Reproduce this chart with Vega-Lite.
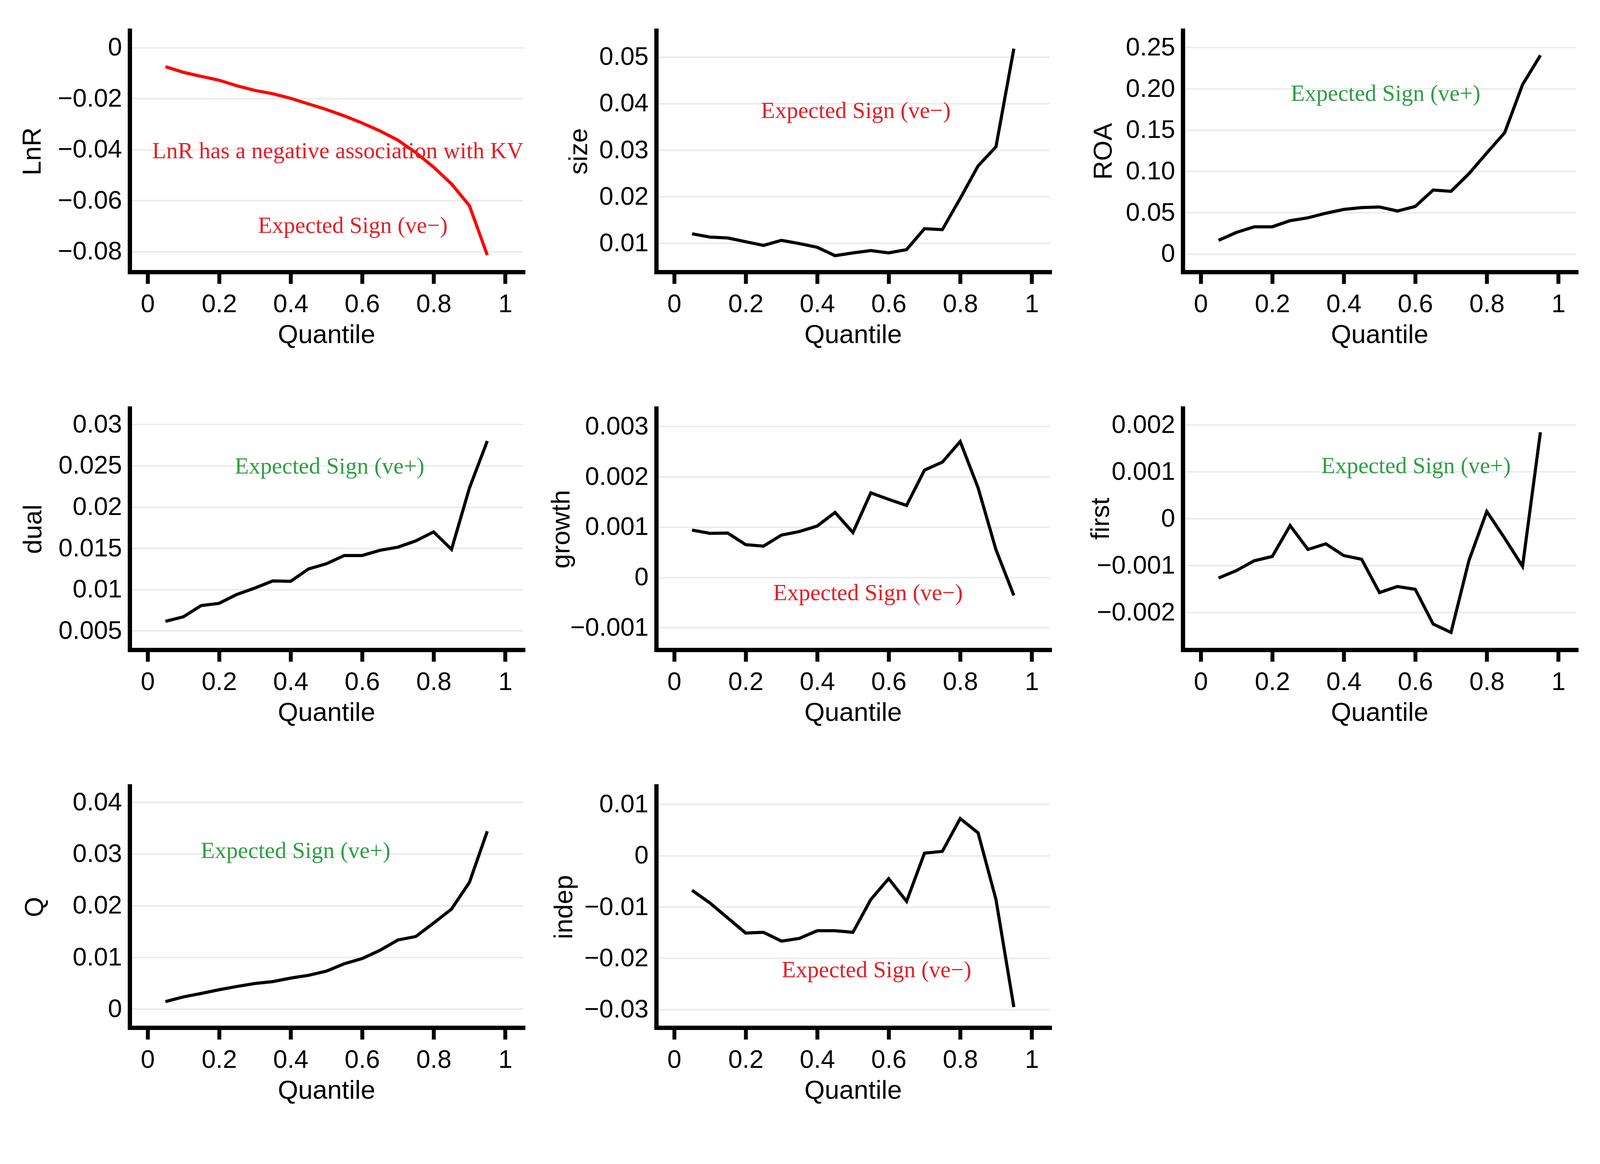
{
  "$schema": "https://vega.github.io/schema/vega-lite/v6.json",
  "background": "white",
  "padding": {"left": 49, "top": 78, "right": 30, "bottom": 30},
  "config": {
    "view": {"stroke": null},
    "font": "Liberation Sans",
    "axis": {
      "labelFont": "Liberation Sans",
      "titleFont": "Liberation Sans",
      "labelFontSize": 65,
      "titleFontSize": 67,
      "titleFontWeight": "normal",
      "labelColor": "black",
      "titleColor": "black",
      "domainColor": "black",
      "domainWidth": 11,
      "domainCap": "square",
      "labelLimit": 1000
    },
    "axisX": {
      "grid": false,
      "ticks": true,
      "tickSize": 30,
      "tickWidth": 10,
      "tickColor": "black",
      "labelPadding": 21,
      "titlePadding": 13,
      "labelFlush": false,
      "labelOverlap": false
    },
    "axisY": {
      "grid": true,
      "gridColor": "#ebebeb",
      "gridWidth": 4,
      "ticks": false,
      "tickSize": 0,
      "labelPadding": 20,
      "titlePadding": 17,
      "labelFlush": false,
      "labelOverlap": false
    }
  },
  "datasets": {
    "LnR": [
      {"q": 0.05, "y": -0.0075}, {"q": 0.10, "y": -0.0097}, {"q": 0.15, "y": -0.0113}, {"q": 0.20, "y": -0.0128},
      {"q": 0.25, "y": -0.0150}, {"q": 0.30, "y": -0.0168}, {"q": 0.35, "y": -0.0181}, {"q": 0.40, "y": -0.0199},
      {"q": 0.45, "y": -0.0221}, {"q": 0.50, "y": -0.0243}, {"q": 0.55, "y": -0.0268}, {"q": 0.60, "y": -0.0296},
      {"q": 0.65, "y": -0.0327}, {"q": 0.70, "y": -0.0363}, {"q": 0.75, "y": -0.0412}, {"q": 0.80, "y": -0.0469},
      {"q": 0.85, "y": -0.0535}, {"q": 0.90, "y": -0.0620}, {"q": 0.95, "y": -0.0814}
    ],
    "size": [
      {"q": 0.05, "y": 0.0120}, {"q": 0.10, "y": 0.0113}, {"q": 0.15, "y": 0.0111}, {"q": 0.20, "y": 0.0103},
      {"q": 0.25, "y": 0.0095}, {"q": 0.30, "y": 0.0106}, {"q": 0.35, "y": 0.0099}, {"q": 0.40, "y": 0.0091},
      {"q": 0.45, "y": 0.0073}, {"q": 0.50, "y": 0.0079}, {"q": 0.55, "y": 0.0084}, {"q": 0.60, "y": 0.0079},
      {"q": 0.65, "y": 0.0086}, {"q": 0.70, "y": 0.0131}, {"q": 0.75, "y": 0.0129}, {"q": 0.80, "y": 0.0196},
      {"q": 0.85, "y": 0.0266}, {"q": 0.90, "y": 0.0307}, {"q": 0.95, "y": 0.0518}
    ],
    "ROA": [
      {"q": 0.05, "y": 0.0164}, {"q": 0.10, "y": 0.0260}, {"q": 0.15, "y": 0.0328}, {"q": 0.20, "y": 0.0328},
      {"q": 0.25, "y": 0.0402}, {"q": 0.30, "y": 0.0437}, {"q": 0.35, "y": 0.0492}, {"q": 0.40, "y": 0.0538},
      {"q": 0.45, "y": 0.0560}, {"q": 0.50, "y": 0.0568}, {"q": 0.55, "y": 0.0519}, {"q": 0.60, "y": 0.0574},
      {"q": 0.65, "y": 0.0773}, {"q": 0.70, "y": 0.0757}, {"q": 0.75, "y": 0.0970}, {"q": 0.80, "y": 0.1221},
      {"q": 0.85, "y": 0.1467}, {"q": 0.90, "y": 0.2049}, {"q": 0.95, "y": 0.2404}
    ],
    "dual": [
      {"q": 0.05, "y": 0.00614}, {"q": 0.10, "y": 0.00669}, {"q": 0.15, "y": 0.00805}, {"q": 0.20, "y": 0.00832},
      {"q": 0.25, "y": 0.00941}, {"q": 0.30, "y": 0.01017}, {"q": 0.35, "y": 0.01104}, {"q": 0.40, "y": 0.01099},
      {"q": 0.45, "y": 0.01249}, {"q": 0.50, "y": 0.01312}, {"q": 0.55, "y": 0.01412}, {"q": 0.60, "y": 0.01412},
      {"q": 0.65, "y": 0.01475}, {"q": 0.70, "y": 0.01513}, {"q": 0.75, "y": 0.01589}, {"q": 0.80, "y": 0.01698},
      {"q": 0.85, "y": 0.01486}, {"q": 0.90, "y": 0.02229}, {"q": 0.95, "y": 0.02800}
    ],
    "growth": [
      {"q": 0.05, "y": 0.00094}, {"q": 0.10, "y": 0.000875}, {"q": 0.15, "y": 0.00088}, {"q": 0.20, "y": 0.00065},
      {"q": 0.25, "y": 0.00062}, {"q": 0.30, "y": 0.00084}, {"q": 0.35, "y": 0.00091}, {"q": 0.40, "y": 0.00102},
      {"q": 0.45, "y": 0.00129}, {"q": 0.50, "y": 0.00089}, {"q": 0.55, "y": 0.00168}, {"q": 0.60, "y": 0.00155},
      {"q": 0.65, "y": 0.00143}, {"q": 0.70, "y": 0.00213}, {"q": 0.75, "y": 0.00229}, {"q": 0.80, "y": 0.00270},
      {"q": 0.85, "y": 0.00178}, {"q": 0.90, "y": 0.00055}, {"q": 0.95, "y": -0.00036}
    ],
    "first": [
      {"q": 0.05, "y": -0.00127}, {"q": 0.10, "y": -0.00111}, {"q": 0.15, "y": -0.00090}, {"q": 0.20, "y": -0.00081},
      {"q": 0.25, "y": -0.00015}, {"q": 0.30, "y": -0.00066}, {"q": 0.35, "y": -0.00054}, {"q": 0.40, "y": -0.00079},
      {"q": 0.45, "y": -0.00087}, {"q": 0.50, "y": -0.00158}, {"q": 0.55, "y": -0.00145}, {"q": 0.60, "y": -0.00151},
      {"q": 0.65, "y": -0.00225}, {"q": 0.70, "y": -0.00243}, {"q": 0.75, "y": -0.00090}, {"q": 0.80, "y": 0.00015},
      {"q": 0.85, "y": -0.00042}, {"q": 0.90, "y": -0.00102}, {"q": 0.95, "y": 0.00184}
    ],
    "Q": [
      {"q": 0.05, "y": 0.00144}, {"q": 0.10, "y": 0.00234}, {"q": 0.15, "y": 0.00301}, {"q": 0.20, "y": 0.00373},
      {"q": 0.25, "y": 0.00436}, {"q": 0.30, "y": 0.00494}, {"q": 0.35, "y": 0.00530}, {"q": 0.40, "y": 0.00598},
      {"q": 0.45, "y": 0.00652}, {"q": 0.50, "y": 0.00733}, {"q": 0.55, "y": 0.00876}, {"q": 0.60, "y": 0.00975},
      {"q": 0.65, "y": 0.01137}, {"q": 0.70, "y": 0.01335}, {"q": 0.75, "y": 0.01402}, {"q": 0.80, "y": 0.01663},
      {"q": 0.85, "y": 0.01933}, {"q": 0.90, "y": 0.02449}, {"q": 0.95, "y": 0.03438}
    ],
    "indep": [
      {"q": 0.05, "y": -0.00676}, {"q": 0.10, "y": -0.00923}, {"q": 0.15, "y": -0.01216}, {"q": 0.20, "y": -0.01509},
      {"q": 0.25, "y": -0.01495}, {"q": 0.30, "y": -0.01667}, {"q": 0.35, "y": -0.01613}, {"q": 0.40, "y": -0.01464},
      {"q": 0.45, "y": -0.01464}, {"q": 0.50, "y": -0.01495}, {"q": 0.55, "y": -0.00856}, {"q": 0.60, "y": -0.00450},
      {"q": 0.65, "y": -0.00892}, {"q": 0.70, "y": 0.00045}, {"q": 0.75, "y": 0.00081}, {"q": 0.80, "y": 0.00720},
      {"q": 0.85, "y": 0.00441}, {"q": 0.90, "y": -0.00856}, {"q": 0.95, "y": -0.02950}
    ],
    "notes": [
      {"panel": "LnR", "q": 0.532, "y": -0.0407, "label": "LnR has a negative association with KV"},
      {"panel": "LnR", "q": 0.574, "y": -0.0699, "label": "Expected Sign (ve−)"},
      {"panel": "size", "q": 0.508, "y": 0.0384, "label": "Expected Sign (ve−)"},
      {"panel": "ROA", "q": 0.517, "y": 0.194, "label": "Expected Sign (ve+)"},
      {"panel": "dual", "q": 0.509, "y": 0.02488, "label": "Expected Sign (ve+)"},
      {"panel": "growth", "q": 0.542, "y": -0.00031, "label": "Expected Sign (ve−)"},
      {"panel": "first", "q": 0.602, "y": 0.00112, "label": "Expected Sign (ve+)"},
      {"panel": "Q", "q": 0.414, "y": 0.03056, "label": "Expected Sign (ve+)"},
      {"panel": "indep", "q": 0.566, "y": -0.0223, "label": "Expected Sign (ve−)"}
    ]
  },
  "columns": 3,
  "bounds": "flush",
  "spacing": {"row": 349, "column": 341},
  "concat": [
    {
      "width": 1007, "height": 618,
      "encoding": {
        "x": {"field": "q", "type": "quantitative", "scale": {"domain": [-0.05, 1.05], "nice": false, "zero": false}, "axis": {"values": [0, 0.2, 0.4, 0.6, 0.8, 1], "format": ".1~f", "title": "Quantile"}},
        "y": {"field": "y", "type": "quantitative", "scale": {"domain": [-0.088, 0.0067], "nice": false, "zero": false}, "axis": {"values": [0, -0.02, -0.04, -0.06, -0.08], "format": ".2~f", "title": "LnR", "titlePadding": 30}}
      },
      "layer": [
        {"data": {"name": "LnR"}, "mark": {"type": "line", "color": "#ff0000", "strokeWidth": 8}},
        {"data": {"name": "notes"}, "transform": [{"filter": "datum.panel == 'LnR'"}], "mark": {"type": "text", "font": "Liberation Serif", "fontSize": 59, "color": "#e41e26"}, "encoding": {"text": {"field": "label"}}}
      ]
    },
    {
      "width": 1007, "height": 618,
      "encoding": {
        "x": {"field": "q", "type": "quantitative", "scale": {"domain": [-0.05, 1.05], "nice": false, "zero": false}, "axis": {"values": [0, 0.2, 0.4, 0.6, 0.8, 1], "format": ".1~f", "title": "Quantile"}},
        "y": {"field": "y", "type": "quantitative", "scale": {"domain": [0.0038, 0.0557], "nice": false, "zero": false}, "axis": {"values": [0.01, 0.02, 0.03, 0.04, 0.05], "format": ".2~f", "title": "size", "titlePadding": 17}}
      },
      "layer": [
        {"data": {"name": "size"}, "mark": {"type": "line", "color": "black", "strokeWidth": 8}},
        {"data": {"name": "notes"}, "transform": [{"filter": "datum.panel == 'size'"}], "mark": {"type": "text", "font": "Liberation Serif", "fontSize": 59, "color": "#e41e26"}, "encoding": {"text": {"field": "label"}}}
      ]
    },
    {
      "width": 1007, "height": 618,
      "encoding": {
        "x": {"field": "q", "type": "quantitative", "scale": {"domain": [-0.05, 1.05], "nice": false, "zero": false}, "axis": {"values": [0, 0.2, 0.4, 0.6, 0.8, 1], "format": ".1~f", "title": "Quantile"}},
        "y": {"field": "y", "type": "quantitative", "scale": {"domain": [-0.0219, 0.2705], "nice": false, "zero": false}, "axis": {"values": [0, 0.05, 0.1, 0.15, 0.2, 0.25], "labelExpr": "datum.value == 0 ? '0' : format(datum.value, '.2f')", "title": "ROA", "titlePadding": 22}}
      },
      "layer": [
        {"data": {"name": "ROA"}, "mark": {"type": "line", "color": "black", "strokeWidth": 8}},
        {"data": {"name": "notes"}, "transform": [{"filter": "datum.panel == 'ROA'"}], "mark": {"type": "text", "font": "Liberation Serif", "fontSize": 59, "color": "#2e9e44"}, "encoding": {"text": {"field": "label"}}}
      ]
    },
    {
      "width": 1007, "height": 618,
      "encoding": {
        "x": {"field": "q", "type": "quantitative", "scale": {"domain": [-0.05, 1.05], "nice": false, "zero": false}, "axis": {"values": [0, 0.2, 0.4, 0.6, 0.8, 1], "format": ".1~f", "title": "Quantile"}},
        "y": {"field": "y", "type": "quantitative", "scale": {"domain": [0.00269, 0.03196], "nice": false, "zero": false}, "axis": {"values": [0.005, 0.01, 0.015, 0.02, 0.025, 0.03], "format": ".3~f", "title": "dual", "titlePadding": 30}}
      },
      "layer": [
        {"data": {"name": "dual"}, "mark": {"type": "line", "color": "black", "strokeWidth": 8}},
        {"data": {"name": "notes"}, "transform": [{"filter": "datum.panel == 'dual'"}], "mark": {"type": "text", "font": "Liberation Serif", "fontSize": 59, "color": "#2e9e44"}, "encoding": {"text": {"field": "label"}}}
      ]
    },
    {
      "width": 1007, "height": 618,
      "encoding": {
        "x": {"field": "q", "type": "quantitative", "scale": {"domain": [-0.05, 1.05], "nice": false, "zero": false}, "axis": {"values": [0, 0.2, 0.4, 0.6, 0.8, 1], "format": ".1~f", "title": "Quantile"}},
        "y": {"field": "y", "type": "quantitative", "scale": {"domain": [-0.00144, 0.00336], "nice": false, "zero": false}, "axis": {"values": [-0.001, 0, 0.001, 0.002, 0.003], "format": ".3~f", "title": "growth", "titlePadding": 9}}
      },
      "layer": [
        {"data": {"name": "growth"}, "mark": {"type": "line", "color": "black", "strokeWidth": 8}},
        {"data": {"name": "notes"}, "transform": [{"filter": "datum.panel == 'growth'"}], "mark": {"type": "text", "font": "Liberation Serif", "fontSize": 59, "color": "#e41e26"}, "encoding": {"text": {"field": "label"}}}
      ]
    },
    {
      "width": 1007, "height": 618,
      "encoding": {
        "x": {"field": "q", "type": "quantitative", "scale": {"domain": [-0.05, 1.05], "nice": false, "zero": false}, "axis": {"values": [0, 0.2, 0.4, 0.6, 0.8, 1], "format": ".1~f", "title": "Quantile"}},
        "y": {"field": "y", "type": "quantitative", "scale": {"domain": [-0.0028, 0.00235], "nice": false, "zero": false}, "axis": {"values": [-0.002, -0.001, 0, 0.001, 0.002], "format": ".3~f", "title": "first", "titlePadding": -24, "titleY": 282}}
      },
      "layer": [
        {"data": {"name": "first"}, "mark": {"type": "line", "color": "black", "strokeWidth": 8}},
        {"data": {"name": "notes"}, "transform": [{"filter": "datum.panel == 'first'"}], "mark": {"type": "text", "font": "Liberation Serif", "fontSize": 59, "color": "#2e9e44"}, "encoding": {"text": {"field": "label"}}}
      ]
    },
    {
      "width": 1007, "height": 618,
      "encoding": {
        "x": {"field": "q", "type": "quantitative", "scale": {"domain": [-0.05, 1.05], "nice": false, "zero": false}, "axis": {"values": [0, 0.2, 0.4, 0.6, 0.8, 1], "format": ".1~f", "title": "Quantile"}},
        "y": {"field": "y", "type": "quantitative", "scale": {"domain": [-0.0036, 0.0431], "nice": false, "zero": false}, "axis": {"values": [0, 0.01, 0.02, 0.03, 0.04], "format": ".2~f", "title": "Q", "titlePadding": 62}}
      },
      "layer": [
        {"data": {"name": "Q"}, "mark": {"type": "line", "color": "black", "strokeWidth": 8}},
        {"data": {"name": "notes"}, "transform": [{"filter": "datum.panel == 'Q'"}], "mark": {"type": "text", "font": "Liberation Serif", "fontSize": 59, "color": "#2e9e44"}, "encoding": {"text": {"field": "label"}}}
      ]
    },
    {
      "width": 1007, "height": 618,
      "encoding": {
        "x": {"field": "q", "type": "quantitative", "scale": {"domain": [-0.05, 1.05], "nice": false, "zero": false}, "axis": {"values": [0, 0.2, 0.4, 0.6, 0.8, 1], "format": ".1~f", "title": "Quantile"}},
        "y": {"field": "y", "type": "quantitative", "scale": {"domain": [-0.0335, 0.0135], "nice": false, "zero": false}, "axis": {"values": [-0.03, -0.02, -0.01, 0, 0.01], "format": ".2~f", "title": "indep", "titlePadding": 17}}
      },
      "layer": [
        {"data": {"name": "indep"}, "mark": {"type": "line", "color": "black", "strokeWidth": 8}},
        {"data": {"name": "notes"}, "transform": [{"filter": "datum.panel == 'indep'"}], "mark": {"type": "text", "font": "Liberation Serif", "fontSize": 59, "color": "#e41e26"}, "encoding": {"text": {"field": "label"}}}
      ]
    }
  ]
}
